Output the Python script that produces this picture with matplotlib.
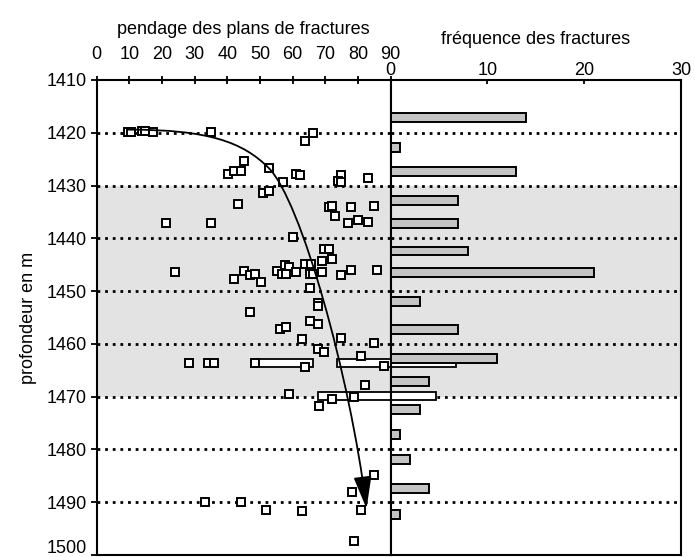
import matplotlib
matplotlib.use("Agg")
import matplotlib.pyplot as plt
import matplotlib.transforms as mtransforms
from matplotlib.path import Path
from matplotlib.patches import FancyArrowPatch

plt.rcParams.update({
    "font.family": ["Liberation Sans", "DejaVu Sans"],
    "font.size": 13,
})

# fracture dip (degrees) vs depth (m)
pendage = [9.7, 10.4, 13.8, 14.8, 17.3, 35.0, 66.1, 63.9, 45.1, 40.1,
           42.1, 44.2, 52.7, 61.1, 62.3, 74.7, 73.8, 74.9, 83.1, 57.1,
           51.0, 52.8, 43.3, 21.3, 35.0, 71.2, 72.1, 77.9, 84.8, 72.9,
           77.0, 79.9, 83.0, 60.2, 69.5, 71.1, 72.1, 24.1, 45.0, 46.9,
           48.5, 41.9, 50.2, 55.1, 57.6, 58.9, 56.8, 57.9, 61.0, 63.8,
           65.6, 65.3, 66.3, 68.9, 68.9, 74.8, 77.9, 85.8, 65.3, 67.8,
           67.8, 46.9, 65.3, 67.8, 56.1, 57.9, 62.9, 74.7, 84.9, 67.8,
           69.7, 80.8, 28.3, 34.0, 35.9, 48.5, 63.9, 87.9, 82.1, 58.8,
           72.0, 78.8, 67.9, 85.0, 78.1, 33.2, 44.2, 51.8, 62.9, 80.8,
           78.7]
profondeur = [1419.9, 1419.9, 1419.6, 1419.7, 1419.9, 1419.9, 1420.1, 1421.6, 1425.3, 1427.8,
              1427.3, 1427.2, 1426.7, 1427.9, 1428.0, 1428.0, 1429.1, 1429.4, 1428.6, 1429.4,
              1431.5, 1431.1, 1433.5, 1437.1, 1437.1, 1434.0, 1433.8, 1434.1, 1433.8, 1435.8,
              1437.1, 1436.6, 1436.9, 1439.7, 1442.0, 1442.0, 1443.9, 1446.3, 1446.2, 1446.9,
              1446.7, 1447.7, 1448.3, 1446.2, 1445.0, 1445.4, 1446.7, 1446.7, 1446.4, 1444.8,
              1444.8, 1446.7, 1446.7, 1444.3, 1446.4, 1446.9, 1446.0, 1446.0, 1449.4, 1452.2,
              1452.9, 1453.9, 1455.7, 1456.2, 1457.2, 1456.8, 1459.1, 1458.9, 1459.9, 1460.9,
              1461.5, 1462.2, 1463.6, 1463.6, 1463.6, 1463.6, 1464.4, 1464.1, 1467.8, 1469.5,
              1470.4, 1470.1, 1471.8, 1484.8, 1488.0, 1490.0, 1490.0, 1491.4, 1491.7, 1491.4,
              1497.4]

# fracture frequency per depth class
freq_depth = [1417.1, 1422.8, 1427.4, 1432.9, 1437.1, 1442.4, 1446.5, 1452.0,
              1457.3, 1462.8, 1467.2, 1472.5, 1477.1, 1481.9, 1487.4, 1492.3]
frequence = [14, 1, 13, 7, 7, 8, 21, 3, 7, 11, 4, 3, 1, 2, 4, 1]

# stray white boxes (start in dip panel, some run on into the frequency panel)
white_depth = [1463.6, 1463.6, 1469.9]
white_height = [1.6, 1.6, 1.4]
white_start = [47.2, 73.6, 67.6]
white_end_left = [66.3, 90, 90]
white_end_right = [0, 6.7, 4.7]

grid_depths = [1420, 1430, 1440, 1450, 1460, 1470, 1480, 1490]
band = (1430, 1470)

# trend arrow (cubic bezier control points)
trend_pts = [(9.7, 1419.4), (34, 1419.4), (44.7, 1421.7), (52.7, 1426.7),
             (62.5, 1432.8), (77.5, 1466.0), (82.6, 1491.2)]

fig = plt.figure(figsize=(6.95, 5.57), dpi=100)
W, H = 695, 557
ax1 = fig.add_axes([96.7 / W, 2 / H, 294 / W, 475 / H])
ax2 = fig.add_axes([390.7 / W, 2 / H, 290.3 / W, 475 / H], sharey=ax1)

dots = (0, (1, 1.75))
for ax in (ax1, ax2):
    ax.axhspan(*band, color="#e3e3e3", lw=0, zorder=0)
    for d in grid_depths:
        ax.axhline(d, color="black", lw=2, ls=dots, zorder=1)
    for s in ax.spines.values():
        s.set_linewidth(1.5)

# left panel: dip
w_left = [e - s for s, e in zip(white_start, white_end_left)]
ax1.barh(white_depth, w_left, left=white_start, height=white_height,
         color="white", edgecolor="black", lw=1.3, zorder=2)
ax1.plot(pendage, profondeur, ls="none", marker="s", ms=5.5, mfc="white",
         mec="black", mew=1.4, zorder=4)

codes = [Path.MOVETO] + [Path.CURVE4] * 6
arrow = FancyArrowPatch(path=Path(trend_pts, codes),
                        arrowstyle="-|>,head_length=1.0,head_width=0.28",
                        mutation_scale=20, color="black", lw=1.3, zorder=5)
ax1.add_patch(arrow)

ax1.set_xlim(0, 90)
ax1.set_ylim(1500, 1410)
ax1.set_xticks(range(0, 91, 10))
ax1.set_yticks(range(1410, 1501, 10))
ax1.xaxis.tick_top()
ax1.xaxis.set_label_position("top")
ax1.tick_params(axis="x", direction="inout", length=6, width=1.3, pad=9)
ax1.tick_params(axis="y", direction="out", length=4, width=1.3, pad=3)
ax1.set_xlabel("pendage des plans de fractures", labelpad=9)
ax1.set_ylabel("profondeur en m", labelpad=7)

# bottom label sits on the figure edge: nudge it up a little
last = ax1.get_yticklabels()[-1]
last.set_transform(last.get_transform()
                   + mtransforms.ScaledTranslation(0, 6 / 72, fig.dpi_scale_trans))

# right panel: frequency
wr_depth = [d for d, e in zip(white_depth, white_end_right) if e > 0]
wr_h = [h for h, e in zip(white_height, white_end_right) if e > 0]
wr_w = [e for e in white_end_right if e > 0]
ax2.barh(wr_depth, wr_w, height=wr_h, color="white", edgecolor="black",
         lw=1.3, zorder=2)
ax2.barh(freq_depth, frequence, height=1.7, color="#c4c4c4",
         edgecolor="black", lw=1.4, zorder=3)
ax2.set_xlim(0, 30)
ax2.set_xticks([0, 10, 20, 30])
ax2.xaxis.tick_top()
ax2.xaxis.set_label_position("top")
ax2.tick_params(axis="x", direction="in", length=3, width=1.3, pad=1)
ax2.tick_params(axis="y", left=False, labelleft=False)
ax2.set_xlabel("fréquence des fractures", labelpad=13)

fig.savefig("out.png", dpi=100)
